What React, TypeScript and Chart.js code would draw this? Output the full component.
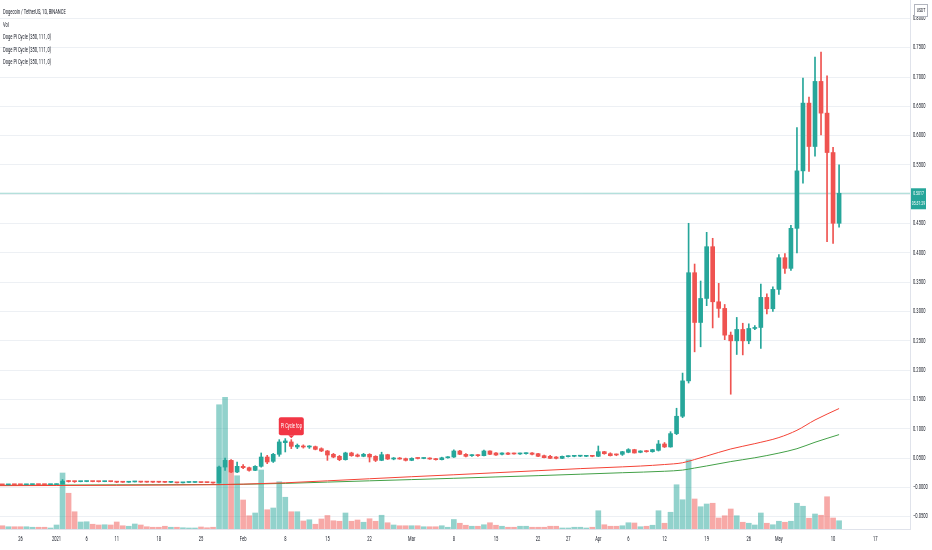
import React, { useEffect, useRef } from 'react';
import { Chart, registerables } from 'chart.js';
Chart.register(...registerables);

// ---------- data (daily candles, Binance DOGEUSDT, from 2020-12-23) ----------
const FIRST_DAY = '2020-12-23';

const open = [
  0.0047, 0.0043, 0.00455, 0.0045, 0.00445, 0.0047, 0.00478, 0.00468, 0.00463,
  0.0047, 0.0057, 0.0106, 0.0099, 0.00975, 0.00995, 0.01005, 0.00985, 0.00975, 0.0101, 0.0098, 0.0089, 0.00875, 0.0093, 0.0096, 0.009, 0.0089, 0.00885, 0.0088, 0.0086, 0.0087, 0.00775, 0.0084, 0.00845, 0.0086, 0.00825, 0.00815, 0.0075, 0.0347, 0.0461, 0.0262,
  0.0359, 0.0336, 0.029, 0.0359, 0.0518, 0.0444, 0.0564, 0.0763, 0.0775, 0.0689, 0.0706, 0.0689, 0.0695, 0.066, 0.0621, 0.0564, 0.053, 0.0473, 0.0587, 0.0552, 0.053, 0.0564, 0.053, 0.0461, 0.0558, 0.0484, 0.0495, 0.049,
  0.0461, 0.0497, 0.0493, 0.0495, 0.0484, 0.0473, 0.0505, 0.0518, 0.0621, 0.0564, 0.0541, 0.0552, 0.0541, 0.0621, 0.0587, 0.0564, 0.0587, 0.0575, 0.057, 0.0575, 0.0587, 0.0575, 0.0541, 0.053, 0.0518, 0.0495, 0.0524, 0.053, 0.0532, 0.053, 0.0535,
  0.053, 0.0609, 0.0575, 0.056, 0.0564, 0.0598, 0.0644, 0.0598, 0.0621, 0.0609, 0.0632, 0.074, 0.069, 0.0917, 0.1213, 0.1817, 0.3662, 0.2813, 0.3223, 0.4106, 0.3166, 0.3053, 0.2597, 0.25, 0.2694, 0.25, 0.2711, 0.2728, 0.3241, 0.3047,
  0.3377, 0.3918, 0.3736, 0.4419, 0.5399, 0.6555, 0.5815, 0.6925, 0.6384, 0.5712, 0.4505,
];
const high = [
  0.00475, 0.0046, 0.00465, 0.00462, 0.0049, 0.00485, 0.00482, 0.00472, 0.00475,
  0.0059, 0.0133, 0.0115, 0.0105, 0.0103, 0.0104, 0.0103, 0.0101, 0.0104, 0.0103, 0.0099, 0.0092, 0.0095, 0.01, 0.0098, 0.0094, 0.0091, 0.00905, 0.009, 0.0088, 0.00875, 0.0085, 0.0086, 0.0088, 0.0088, 0.0084, 0.00825, 0.0365, 0.0501, 0.0475, 0.0433,
  0.039, 0.0345, 0.037, 0.0587, 0.0547, 0.058, 0.0814, 0.0832, 0.0814, 0.074, 0.0725, 0.0712, 0.0705, 0.0675, 0.063, 0.058, 0.0545, 0.06, 0.06, 0.057, 0.058, 0.0575, 0.054, 0.06, 0.0565, 0.051, 0.051, 0.05,
  0.0505, 0.0505, 0.0505, 0.0505, 0.0495, 0.0515, 0.0525, 0.064, 0.063, 0.0575, 0.056, 0.056, 0.0635, 0.0625, 0.0595, 0.059, 0.0595, 0.0585, 0.0585, 0.059, 0.0592, 0.058, 0.055, 0.0545, 0.0525, 0.0535, 0.054, 0.0538, 0.054, 0.054, 0.054,
  0.0706, 0.0615, 0.059, 0.057, 0.0615, 0.066, 0.065, 0.0625, 0.063, 0.065, 0.08, 0.0765, 0.095, 0.135, 0.195, 0.4505, 0.381, 0.352, 0.4351, 0.4249, 0.348, 0.312, 0.265, 0.2899, 0.28, 0.279, 0.276, 0.3468, 0.33, 0.342,
  0.397, 0.399, 0.447, 0.6139, 0.6982, 0.6658, 0.7341, 0.7426, 0.7022, 0.58, 0.5501,
];
const low = [
  0.00415, 0.00425, 0.0044, 0.0044, 0.0044, 0.00462, 0.00455, 0.00455, 0.00455,
  0.00465, 0.0056, 0.009, 0.0085, 0.0094, 0.0096, 0.0095, 0.0092, 0.0096, 0.0095, 0.008, 0.0085, 0.0086, 0.0092, 0.0087, 0.0088, 0.0086, 0.00865, 0.0085, 0.0082, 0.0076, 0.0074, 0.00825, 0.0083, 0.00815, 0.008, 0.0072, 0.0072, 0.029, 0.025, 0.025,
  0.0319, 0.0275, 0.0285, 0.0345, 0.0404, 0.0425, 0.053, 0.0604, 0.0661, 0.0661, 0.067, 0.0665, 0.064, 0.061, 0.0461, 0.0505, 0.0455, 0.0465, 0.053, 0.052, 0.0522, 0.0433, 0.044, 0.0455, 0.0475, 0.047, 0.048, 0.045,
  0.0455, 0.0485, 0.0488, 0.0478, 0.0465, 0.0468, 0.0498, 0.051, 0.056, 0.052, 0.053, 0.053, 0.0535, 0.056, 0.0545, 0.0555, 0.056, 0.0565, 0.0562, 0.0565, 0.0555, 0.0525, 0.0502, 0.049, 0.0485, 0.049, 0.0518, 0.0522, 0.0525, 0.0524, 0.0522,
  0.0525, 0.0565, 0.0535, 0.054, 0.0545, 0.059, 0.0585, 0.059, 0.06, 0.06, 0.062, 0.068, 0.0685, 0.09, 0.119, 0.178, 0.2312, 0.2398, 0.31, 0.272, 0.29, 0.252, 0.1589, 0.2267, 0.226, 0.245, 0.269, 0.2369, 0.296, 0.3,
  0.3291, 0.365, 0.37, 0.4, 0.5188, 0.5388, 0.565, 0.6014, 0.4192, 0.4163, 0.4437,
];
const close = [
  0.0043, 0.00455, 0.0045, 0.00445, 0.0047, 0.00478, 0.00468, 0.00463, 0.0047,
  0.0057, 0.0106, 0.0099, 0.00975, 0.00995, 0.01005, 0.00985, 0.00975, 0.0101, 0.0098, 0.0089, 0.00875, 0.0093, 0.0096, 0.009, 0.0089, 0.00885, 0.0088, 0.0086, 0.0087, 0.00775, 0.0084, 0.00845, 0.0086, 0.00825, 0.00815, 0.0075, 0.0347, 0.0461, 0.0262, 0.0359,
  0.0336, 0.029, 0.0359, 0.0518, 0.0433, 0.0564, 0.0775, 0.0792, 0.07, 0.0718, 0.0689, 0.0695, 0.0649, 0.0621, 0.0552, 0.0518, 0.0473, 0.0587, 0.0541, 0.053, 0.0564, 0.0518, 0.0461, 0.0558, 0.0484, 0.0495, 0.0484, 0.0461,
  0.0495, 0.0493, 0.0497, 0.0484, 0.0473, 0.0505, 0.0518, 0.0621, 0.0564, 0.053, 0.0552, 0.0541, 0.0621, 0.0564, 0.0552, 0.0587, 0.0564, 0.057, 0.0575, 0.0587, 0.0564, 0.053, 0.0507, 0.0495, 0.0495, 0.053, 0.053, 0.0532, 0.0535, 0.0535, 0.053,
  0.0609, 0.0575, 0.0541, 0.0553, 0.0609, 0.0644, 0.0587, 0.0621, 0.0609, 0.0644, 0.074, 0.069, 0.0917, 0.1213, 0.1817, 0.3662, 0.2813, 0.3223, 0.4106, 0.3166, 0.3053, 0.2597, 0.25, 0.2694, 0.25, 0.2711, 0.2728, 0.3241, 0.3047, 0.3377,
  0.3918, 0.3736, 0.4419, 0.5399, 0.6555, 0.5815, 0.6925, 0.6384, 0.5712, 0.4505, 0.5017,
];
// volume, billions of DOGE
const volume = [
  1.3, 0.9, 0.9, 0.9, 0.9, 0.7, 0.7, 0.7, 0.4,
  1.6, 22.4, 14.3, 6.9, 2.8, 2.9, 1.9, 1.6, 1.7, 1.6, 2.8, 1.3, 1.1, 2.0, 1.6, 0.9, 0.7, 0.7, 1.1, 0.7, 0.7, 0.5, 0.4, 0.4, 0.8, 0.5, 0.7, 49.7, 52.7, 27.3, 21.3,
  11.6, 5.3, 6.4, 23.6, 7.7, 8.4, 18.9, 12.7, 6.9, 6.9, 3.2, 3.7, 1.9, 4.0, 5.4, 3.3, 3.1, 6.4, 3.1, 3.6, 2.7, 4.1, 3.1, 5.5, 2.5, 1.6, 1.3, 1.3,
  1.3, 1.3, 0.9, 0.9, 0.9, 1.3, 0.7, 3.8, 2.3, 1.5, 1.1, 1.1, 1.7, 2.5, 1.5, 1.1, 0.7, 0.7, 1.1, 1.1, 0.7, 0.7, 0.7, 1.1, 1.1, 0.4, 0.4, 0.7, 0.7, 0.4, 0.7,
  7.3, 1.7, 1.1, 1.1, 1.3, 2.5, 2.4, 0.9, 1.1, 1.5, 7.3, 2.3, 6.7, 17.7, 11.7, 27.7, 12.0, 8.9, 10.0, 10.3, 4.4, 5.3, 8.0, 5.3, 2.7, 2.3, 1.6, 6.4, 2.3, 1.7,
  3.1, 2.7, 3.1, 10.3, 9.1, 4.3, 6.0, 5.5, 12.9, 4.4, 3.3,
];

// Pi Cycle lines (day index from 2021-01-01 -> value)
const sma111Days = [-10, 0, 10, 20, 27, 31, 38, 45, 52, 59, 66, 73, 80, 87, 94, 97, 101, 104, 106, 108, 112, 116, 120, 123, 126, 130];
const sma111 = [0.0029, 0.0032, 0.0036, 0.0041, 0.0046, 0.0055, 0.0078, 0.0112, 0.0147, 0.0182, 0.0215, 0.025, 0.0285, 0.032, 0.035, 0.0364, 0.039, 0.042, 0.0475, 0.0535, 0.0655, 0.0746, 0.085, 0.0974, 0.115, 0.1345];
const sma350x2Days = [-10, 0, 10, 20, 27, 31, 38, 45, 52, 59, 66, 73, 80, 87, 94, 101, 104, 106, 108, 112, 116, 120, 123, 126, 130];
const sma350x2 = [0.0035, 0.0039, 0.0043, 0.0046, 0.0049, 0.0053, 0.0068, 0.009, 0.0112, 0.0133, 0.0155, 0.0178, 0.02, 0.0225, 0.025, 0.0275, 0.0295, 0.033, 0.0365, 0.044, 0.0505, 0.0585, 0.066, 0.077, 0.09];

const signalDay = 39; // Pi Cycle top marker (2021-02-09)
const signalText = 'Pi Cycle top';

const xTickDays = [-6, 0, 5, 10, 17, 24, 31, 38, 45, 52, 59, 66, 73, 80, 85, 90, 95, 101, 108, 115, 120, 129, 136];
const xTickLabels = ['26', '2021', '6', '11', '18', '25', 'Feb', '8', '15', '22', 'Mar', '8', '15', '22', '27', 'Apr', '6', '12', '19', '26', 'May', '10', '17'];
const yTicks = [-0.05, 0, 0.05, 0.1, 0.15, 0.2, 0.25, 0.3, 0.35, 0.4, 0.45, 0.5, 0.55, 0.6, 0.65, 0.7, 0.75, 0.8];

const headerLines = [
  'Dogecoin / TetherUS, 1D, BINANCE',
  'Vol',
  'Doge Pi Cycle (350, 111, 0)',
  'Doge Pi Cycle (350, 111, 0)',
  'Doge Pi Cycle (350, 111, 0)',
];
const quoteUnit = 'USDT';
const countdown = '05:31:29';

// ---------- styling ----------
const UP = '#26a69a';
const DOWN = '#ef5350';
const UP_VOL = 'rgba(38,166,154,0.5)';
const DOWN_VOL = 'rgba(239,83,80,0.5)';
const FONT = 'Roboto, "Liberation Sans", sans-serif';
const SX = 0.58;

const DAY_MS = 86400000;
const startDay = Math.round((Date.parse(FIRST_DAY + 'T00:00:00Z') - Date.parse('2021-01-01T00:00:00Z')) / DAY_MS);
const days = open.map((_, i) => startDay + i);
const isUp = (i: number) => close[i] >= open[i];

function fmtPrice(v: number) {
  const s = Math.abs(v).toFixed(4);
  return v <= 0 ? '\u2212' + s : s;
}

function sqText(ctx: CanvasRenderingContext2D, text: string, x: number, y: number, align: CanvasTextAlign) {
  ctx.save();
  ctx.translate(x, y);
  ctx.scale(SX, 1);
  ctx.textAlign = align;
  ctx.fillText(text, 0, 0);
  ctx.restore();
}

const overlayPlugin = {
  id: 'tvOverlay',
  afterDraw(chart: any) {
    const ctx: CanvasRenderingContext2D = chart.ctx;
    const xs = chart.scales.x;
    const ys = chart.scales.y;
    const area = chart.chartArea;
    ctx.save();
    ctx.textBaseline = 'middle';
    ctx.font = '7px ' + FONT;
    ctx.fillStyle = '#131722';
    // y tick labels
    yTicks.forEach((v) => {
      const y = ys.getPixelForValue(v);
      if (y < area.top - 4 || y > area.bottom + 4) return;
      sqText(ctx, fmtPrice(v), area.right + 3, y, 'left');
    });
    // x tick labels
    xTickDays.forEach((d, i) => {
      sqText(ctx, xTickLabels[i], xs.getPixelForValue(d), area.bottom + 10, 'center');
    });
    // header
    headerLines.forEach((t, i) => {
      sqText(ctx, t, 3, 12.7 + i * 12.5, 'left');
    });

    // Pi Cycle top marker
    const si = days.indexOf(signalDay);
    const px = xs.getPixelForValue(signalDay);
    const tipY = ys.getPixelForValue(high[si]) - 1.5;
    const bw = 25, bh = 18;
    const bx = px - bw / 2, by = tipY - 3 - bh;
    ctx.fillStyle = '#f23645';
    ctx.beginPath();
    ctx.roundRect(bx, by, bw, bh, 2);
    ctx.fill();
    ctx.beginPath();
    ctx.moveTo(px - 3, by + bh);
    ctx.lineTo(px + 3, by + bh);
    ctx.lineTo(px, tipY);
    ctx.closePath();
    ctx.fill();
    ctx.fillStyle = '#ffffff';
    sqText(ctx, signalText, px, by + bh / 2, 'center');

    // last price tag
    const last = close[close.length - 1];
    const ly = ys.getPixelForValue(last);
    ctx.fillStyle = UP;
    ctx.fillRect(area.right + 1, ly - 5, 15, 21);
    ctx.fillStyle = '#ffffff';
    ctx.font = '6px ' + FONT;
    sqText(ctx, last.toFixed(4), area.right + 8.5, ly, 'center');
    sqText(ctx, countdown, area.right + 8.5, ly + 10, 'center');

    // unit box
    ctx.fillStyle = '#ffffff';
    ctx.fillRect(914.5, 4.5, 13, 12);
    ctx.strokeStyle = '#b2b5be';
    ctx.lineWidth = 1;
    ctx.strokeRect(914.5, 4.5, 13, 12);
    ctx.fillStyle = '#131722';
    ctx.font = '6px ' + FONT;
    sqText(ctx, quoteUnit, 921, 10.7, 'center');
    ctx.restore();
  },
};

export default function App() {
  const ref = useRef<HTMLCanvasElement>(null);
  useEffect(() => {
    if (!ref.current) return;
    const last = close[close.length - 1];
    const chart = new Chart(ref.current, {
      type: 'bar',
      data: {
        datasets: [
          {
            type: 'bar',
            label: 'Vol',
            yAxisID: 'yv',
            data: days.map((d, i) => ({ x: d, y: volume[i] })),
            backgroundColor: days.map((_, i) => (isUp(i) ? UP_VOL : DOWN_VOL)),
            barThickness: 5,
            grouped: false,
            order: 5,
          } as any,
          {
            type: 'line',
            label: 'last',
            data: [{ x: -20, y: last }, { x: 160, y: last }],
            borderColor: 'rgba(38,166,154,0.45)',
            borderWidth: 1,
            pointRadius: 0,
            order: 4,
          } as any,
          {
            type: 'line',
            label: 'SMA 111',
            data: sma111Days.map((d, i) => ({ x: d, y: sma111[i] })),
            borderColor: '#f44336',
            borderWidth: 1,
            pointRadius: 0,
            cubicInterpolationMode: 'monotone',
            order: 3,
          } as any,
          {
            type: 'line',
            label: 'SMA 350 x2',
            data: sma350x2Days.map((d, i) => ({ x: d, y: sma350x2[i] })),
            borderColor: '#43a047',
            borderWidth: 1,
            pointRadius: 0,
            cubicInterpolationMode: 'monotone',
            order: 3,
          } as any,
          {
            type: 'bar',
            label: 'wick',
            data: days.map((d, i) => ({ x: d, y: [low[i], high[i]] })),
            backgroundColor: days.map((_, i) => (isUp(i) ? UP : DOWN)),
            barThickness: 1,
            grouped: false,
            order: 2,
          } as any,
          {
            type: 'bar',
            label: 'body',
            data: days.map((d, i) => ({ x: d, y: [open[i], close[i]] })),
            backgroundColor: days.map((_, i) => (isUp(i) ? UP : DOWN)),
            barThickness: 4,
            minBarLength: 1,
            grouped: false,
            order: 1,
          } as any,
        ],
      },
      options: {
        animation: false,
        responsive: false,
        events: [],
        layout: { padding: 0 },
        plugins: { legend: { display: false }, tooltip: { enabled: false } },
        scales: {
          x: {
            type: 'linear',
            min: -9.39,
            max: 141.78,
            offset: false,
            grid: { display: false, drawTicks: false },
            border: { display: true, color: '#e0e3eb' },
            ticks: { display: false },
            afterBuildTicks: (s: any) => {
              s.ticks = xTickDays.map((v) => ({ value: v }));
            },
            afterFit: (s: any) => {
              s.height = 21;
            },
          },
          y: {
            type: 'linear',
            position: 'right',
            min: -0.071,
            max: 0.8314,
            grid: { color: '#edf0f4', drawTicks: false },
            border: { display: true, color: '#e0e3eb' },
            ticks: { display: false },
            afterBuildTicks: (s: any) => {
              s.ticks = yTicks.map((v) => ({ value: v }));
            },
            afterFit: (s: any) => {
              s.width = 22;
            },
          },
          yv: {
            type: 'linear',
            display: false,
            min: 0,
            max: 211.6,
          },
        },
      } as any,
      plugins: [overlayPlugin],
    });
    return () => chart.destroy();
  }, []);
  return (
    <div style={{ position: 'absolute', left: 0, top: 0, width: 932, height: 550, background: '#ffffff' }}>
      <canvas ref={ref} width={932} height={550} style={{ display: 'block', width: 932, height: 550 }} />
    </div>
  );
}
